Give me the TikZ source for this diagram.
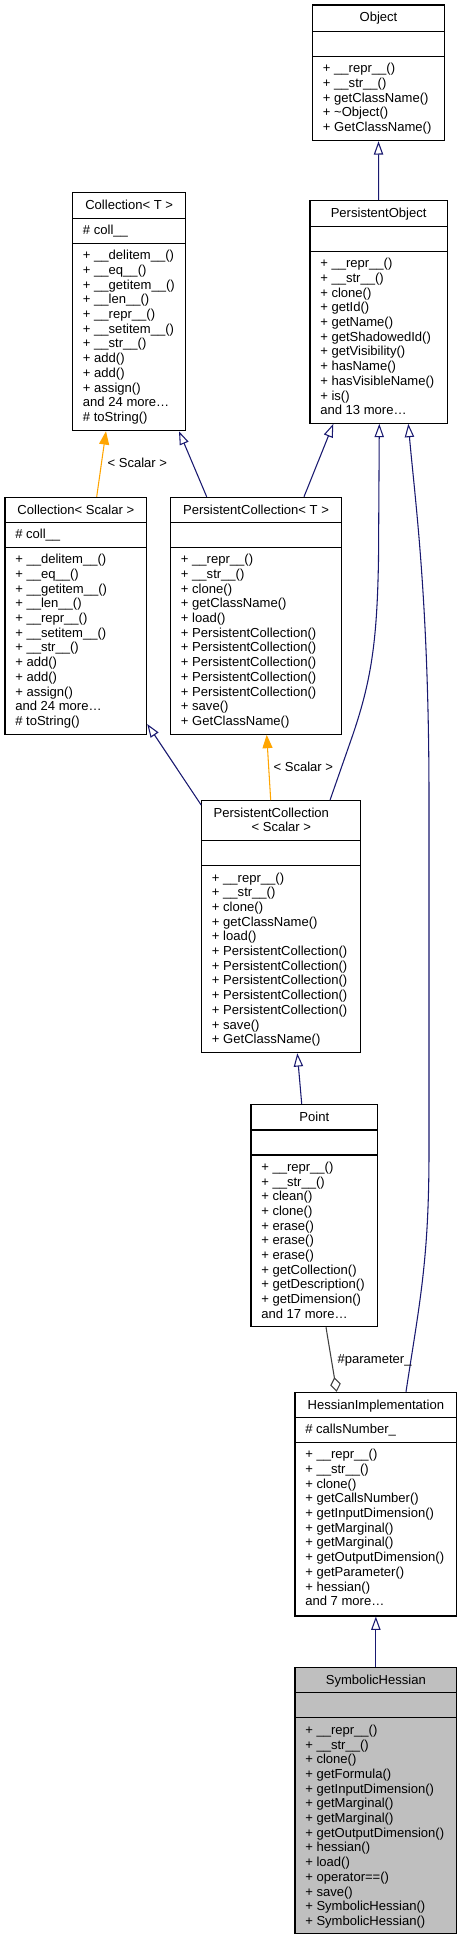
\documentclass[tikz,border=0pt]{standalone}
\usepackage{fontspec}
\setmainfont{Liberation Sans}
\usetikzlibrary{arrows.meta,fit}
\definecolor{navy}{HTML}{191970}
\definecolor{tmplorange}{HTML}{FFA500}
\definecolor{aggrgray}{HTML}{404040}
\definecolor{grey75}{HTML}{BFBFBF}
\tikzset{
  classbox/.style={draw=black,line width=0.8pt,inner sep=0pt},
  focusbox/.style={classbox,fill=grey75},
  sepline/.style={line width=0.8pt},
  classtitle/.style={anchor=base,inner sep=0pt},
  member/.style={anchor=base west,inner sep=0pt},
  lbl/.style={anchor=base west,inner sep=0pt},
  inherit/.style={draw=navy,line width=0.8pt,-{Triangle[open,length=10pt,width=7pt]}},
  templ/.style={draw=tmplorange,line width=0.8pt,-{Triangle[length=10pt,width=7.5pt]}},
  aggr/.style={draw=aggrgray,line width=0.8pt,-{Diamond[open,length=11pt,width=8pt]}}
}
\newcommand{\umlclass}[8][classbox]{%
  \node[#1,fit={(#3,#4) (#5,#6)}](#2){};
  \draw[sepline](#3,#7)--(#5,#7) (#3,#7+25)--(#5,#7+25);
  \node[classtitle](#2-title)at({(#3+#5)/2},#4+17){#8};
}
\newcommand{\members}[4]{%
  \foreach \m [count=\i from 0] in #4
    \node[member](#1-\i)at(#2+10,#3+16+\i*14.7){\m};
}
\newcommand{\collops}{+ \_\_delitem\_\_(),+ \_\_eq\_\_(),+ \_\_getitem\_\_(),+ \_\_len\_\_(),+ \_\_repr\_\_(),+ \_\_setitem\_\_(),+ \_\_str\_\_(),+ add(),+ add(),+ assign(),and 24 more\ldots,\# toString()}
\newcommand{\pcollops}{+ \_\_repr\_\_(),+ \_\_str\_\_(),+ clone(),+ getClassName(),+ load(),+ PersistentCollection(),+ PersistentCollection(),+ PersistentCollection(),+ PersistentCollection(),+ PersistentCollection(),+ save(),+ GetClassName()}

\begin{document}
\begin{tikzpicture}[x=0.75pt,y=-0.75pt,font=\fontsize{9.79}{11}\selectfont]
        \fill[white](0,0)rectangle(461,1941);
        \umlclass{obj}{312.7}{5}{444.3}{140.7}{31.7}{Object}
        \members{obj-m}{312.7}{56.7}{{+ \_\_repr\_\_(),+ \_\_str\_\_(),+ getClassName(),+ \textasciitilde Object(),+ GetClassName()}}
        \umlclass{pobj}{310}{200.7}{447.3}{423.3}{226.7}{PersistentObject}
        \members{pobj-m}{310}{251.7}{{+ \_\_repr\_\_(),+ \_\_str\_\_(),+ clone(),+ getId(),+ getName(),+ getShadowedId(),+ getVisibility(),+ hasName(),+ hasVisibleName(),+ is(),and 13 more\ldots}}
        \umlclass{coll}{72.7}{192.7}{185.7}{430.7}{218.7}{Collection< T >}
        \members{coll-a}{72.7}{218.7}{{\# coll\_\_}}
        \members{coll-m}{72.7}{243.7}{\collops}
        \umlclass{collS}{5}{497.3}{146.7}{734.3}{522.3}{Collection< Scalar >}
        \members{collS-a}{5}{522.3}{{\# coll\_\_}}
        \members{collS-m}{5}{547.7}{\collops}
        \umlclass{pcoll}{170.7}{497.3}{341.3}{734.3}{522.3}{PersistentCollection< T >}
        \members{pcoll-m}{170.7}{547.7}{\pcollops}
        \umlclass{pcollS}{201.7}{800.7}{360.7}{1052.7}{840.7}{}
        \node[classtitle](pcollS-l1)at(271.3,817.5){PersistentCollection};
        \node[classtitle](pcollS-l2)at(281.3,831.5){< Scalar >};
        \members{pcollS-m}{201.7}{866}{\pcollops}
        \umlclass{point}{251}{1104.3}{377.7}{1326.7}{1130}{Point}
        \members{point-m}{251}{1155.3}{{+ \_\_repr\_\_(),+ \_\_str\_\_(),+ clean(),+ clone(),+ erase(),+ erase(),+ erase(),+ getCollection(),+ getDescription(),+ getDimension(),and 17 more\ldots}}
        \umlclass{hess}{295}{1392.3}{456.7}{1616}{1417.7}{HessianImplementation}
        \members{hess-a}{295}{1417.7}{{\# callsNumber\_}}
        \members{hess-m}{295}{1442.7}{{+ \_\_repr\_\_(),+ \_\_str\_\_(),+ clone(),+ getCallsNumber(),+ getInputDimension(),+ getMarginal(),+ getMarginal(),+ getOutputDimension(),+ getParameter(),+ hessian(),and 7 more\ldots}}
        \umlclass[focusbox]{symb}{295}{1667.7}{456.7}{1933.3}{1692.7}{SymbolicHessian}
        \members{symb-m}{295}{1718.3}{{+ \_\_repr\_\_(),+ \_\_str\_\_(),+ clone(),+ getFormula(),+ getInputDimension(),+ getMarginal(),+ getMarginal(),+ getOutputDimension(),+ hessian(),+ load(),+ operator==(),+ save(),+ SymbolicHessian(),+ SymbolicHessian()}}
        \draw[inherit](pobj.north)--(obj.south);
        \draw[inherit](206.7,0 |- pcoll.north)--(179,0 |- coll.south);
        \draw[inherit](304,0 |- pcoll.north)--(333.3,0 |- pobj.south);
        \draw[templ](96.7,0 |- collS.north)--(106,0 |- coll.south);
        \node[lbl](scalar1)at(107.3,467){< Scalar >};
        \draw[inherit](pcollS.west |- 0,805)--(collS.east |- 0,724);
        \draw[templ](270.7,0 |- pcollS.north)--(266.7,0 |- pcoll.south);
        \node[lbl](scalar2)at(273.3,771){< Scalar >};
        \draw[inherit](330,0 |- pcollS.north)--(351,740) .. controls (372,680) and (377,640) .. (378.5,560)--(379.3,0 |- pobj.south);
        \draw[inherit](406,0 |- hess.north) .. controls (420,1300) and (429,1260) .. (429,1150)--(429,800) .. controls (429,600) and (415,500) .. (408.3,0 |- pobj.south);
        \draw[inherit](301.7,0 |- point.north)--(297.3,0 |- pcollS.south);
        \draw[aggr](326,0 |- point.south)--(336.7,0 |- hess.north);
        \node[lbl](param)at(337.3,1363){\#parameter\_};
        \draw[inherit](symb.north)--(hess.south);
\end{tikzpicture}
\end{document}
